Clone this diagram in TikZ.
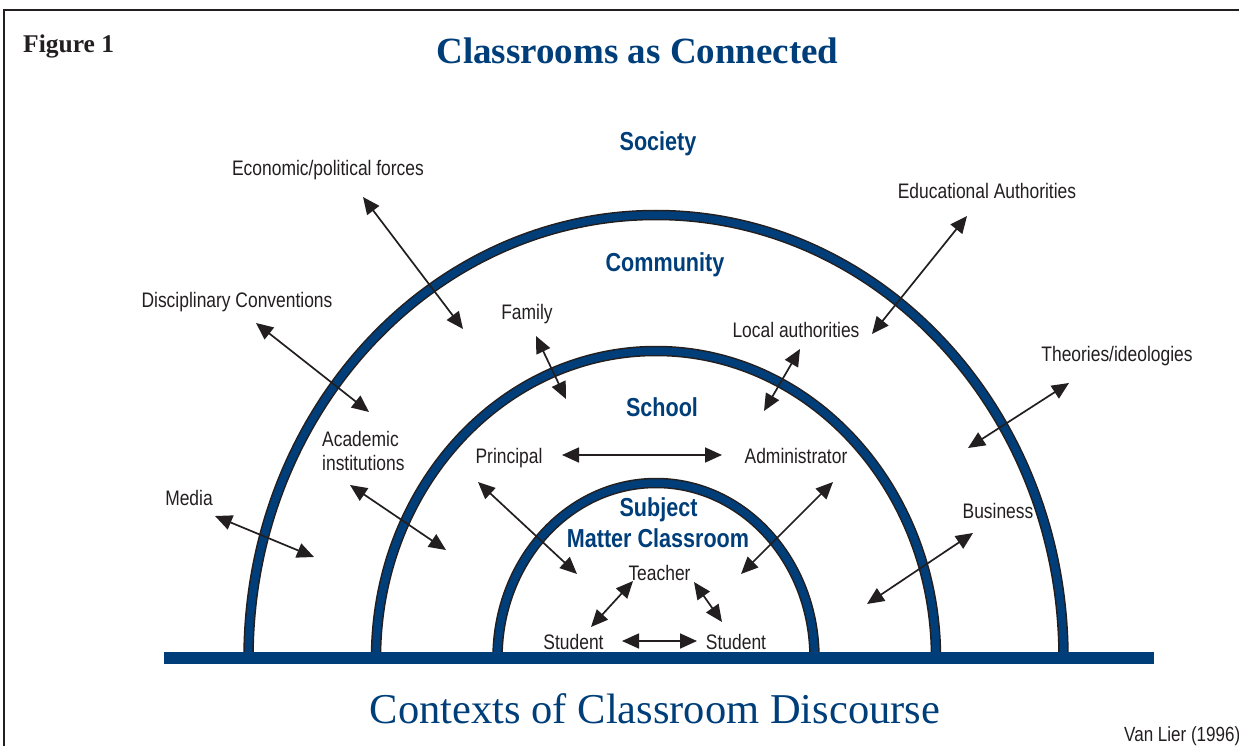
\documentclass[tikz,border=0pt]{standalone}
\usepackage{fontspec}
\setmainfont{Liberation Serif}
\newfontfamily\labelfont[FakeStretch=0.83]{Liberation Sans}
\usetikzlibrary{arrows.meta}
\definecolor{navy}{RGB}{0,62,122}
\definecolor{ink}{RGB}{35,31,32}
\begin{document}
\begin{tikzpicture}[x=1pt,y=-1pt,
  lbl/.style={font=\labelfont\fontsize{21}{23.5}\selectfont, text=ink, inner sep=0pt, anchor=base},
  zone/.style={font=\labelfont\bfseries\fontsize{26}{30}\selectfont, text=navy, inner sep=0pt, anchor=base},
  bandedge/.style={draw=ink, line width=10.5pt},
  bandcore/.style={draw=navy, line width=7.5pt},
  link/.style={draw=ink, line width=1.7pt,
    {Triangle[length=17pt,width=15pt]}-{Triangle[length=17pt,width=15pt]}}]
\useasboundingbox (0,0) rectangle (1239,746);

% frame
\draw[ink, line width=2pt] (3.5,750) -- (3.5,10) -- (1242,10);

% nested half-ellipses
\foreach \rx/\ry in {407.5/443, 280/307, 158.5/175}{
  \draw[bandedge] (656-\rx,658) arc[start angle=180, end angle=360, x radius=\rx, y radius=\ry];
  \draw[bandcore] (656-\rx,658) arc[start angle=180, end angle=360, x radius=\rx, y radius=\ry];
}
% ground line
\draw[navy, line width=12pt] (164,658) -- (1154,658);

% titles
\node[font=\bfseries\fontsize{25.5}{30}\selectfont, text=ink, inner sep=0pt, anchor=base west] (fig) at (23,53) {Figure 1};
\node[font=\bfseries\fontsize{37}{42}\selectfont, text=navy, inner sep=0pt, anchor=base] (title) at (637.5,64) {Classrooms as Connected};
\node[font=\fontsize{42.5}{48}\selectfont, text=navy, inner sep=0pt, anchor=base] (caption) at (655,723) {Contexts of Classroom Discourse};
\node[font=\labelfont\fontsize{20.5}{24}\selectfont, text=ink, inner sep=0pt, anchor=base west] (source) at (1124,741) {Van Lier (1996)};

% zone names
\node[zone] (society) at (658,151) {Society};
\node[zone] (community) at (665,271) {Community};
\node[zone] (school) at (662,416) {School};
\node[zone] (subject) at (658.5,516) {Subject};
\node[zone] (matter) at (658,547) {Matter Classroom};

% labels
\node[lbl] (econ) at (328,176) {Economic/political forces};
\node[lbl] (edu) at (987,199) {Educational Authorities};
\node[lbl] (disc) at (237,307) {Disciplinary Conventions};
\node[lbl] (family) at (527,319) {Family};
\node[lbl] (local) at (796,337) {Local authorities};
\node[lbl] (theory) at (1117,361) {Theories/ideologies};
\node[lbl, anchor=base west, align=left] (acad) at (322,470) {Academic\\institutions};
\node[lbl] (principal) at (509,463) {Principal};
\node[lbl] (admin) at (796,463) {Administrator};
\node[lbl] (media) at (189,505) {Media};
\node[lbl] (business) at (998,518) {Business};
\node[lbl] (teacher) at (659.5,580) {Teacher};
\node[lbl] (studentL) at (573.5,649) {Student};
\node[lbl] (studentR) at (736,649) {Student};

% arrow end points
\coordinate (econA) at (363,197);   \coordinate (econB) at (463,329);
\coordinate (discA) at (256,323);   \coordinate (discB) at (369,412);
\coordinate (mediaA) at (215,516);  \coordinate (mediaB) at (314,557);
\coordinate (acadA) at (350,485);   \coordinate (acadB) at (446,550);
\coordinate (famA) at (536,336);    \coordinate (famB) at (566,399);
\coordinate (locA) at (800,349);    \coordinate (locB) at (764,411);
\coordinate (eduA) at (967,216);    \coordinate (eduB) at (872,334);
\coordinate (thA) at (1069,383);    \coordinate (thB) at (968,448);
\coordinate (busA) at (973,533);    \coordinate (busB) at (867,604);
\coordinate (paA) at (562,455);     \coordinate (paB) at (722,455);
\coordinate (prA) at (478,482);     \coordinate (prB) at (577,574);
\coordinate (adA) at (833,482);     \coordinate (adB) at (741,574);
\coordinate (tlA) at (633,581);     \coordinate (tlB) at (591,627);
\coordinate (trA) at (694,582);     \coordinate (trB) at (722,622);
\coordinate (ssA) at (622,641);     \coordinate (ssB) at (697,641);

\draw[link] (econA) -- (econB);
\draw[link] (discA) -- (discB);
\draw[link] (mediaA) -- (mediaB);
\draw[link] (acadA) -- (acadB);
\draw[link] (famA) -- (famB);
\draw[link] (locA) -- (locB);
\draw[link] (eduA) -- (eduB);
\draw[link] (thA) -- (thB);
\draw[link] (busA) -- (busB);
\draw[link] (paA) -- (paB);
\draw[link] (prA) -- (prB);
\draw[link] (adA) -- (adB);
\draw[link] (tlA) -- (tlB);
\draw[link] (trA) -- (trB);
\draw[link] (ssA) -- (ssB);
\end{tikzpicture}
\end{document}
